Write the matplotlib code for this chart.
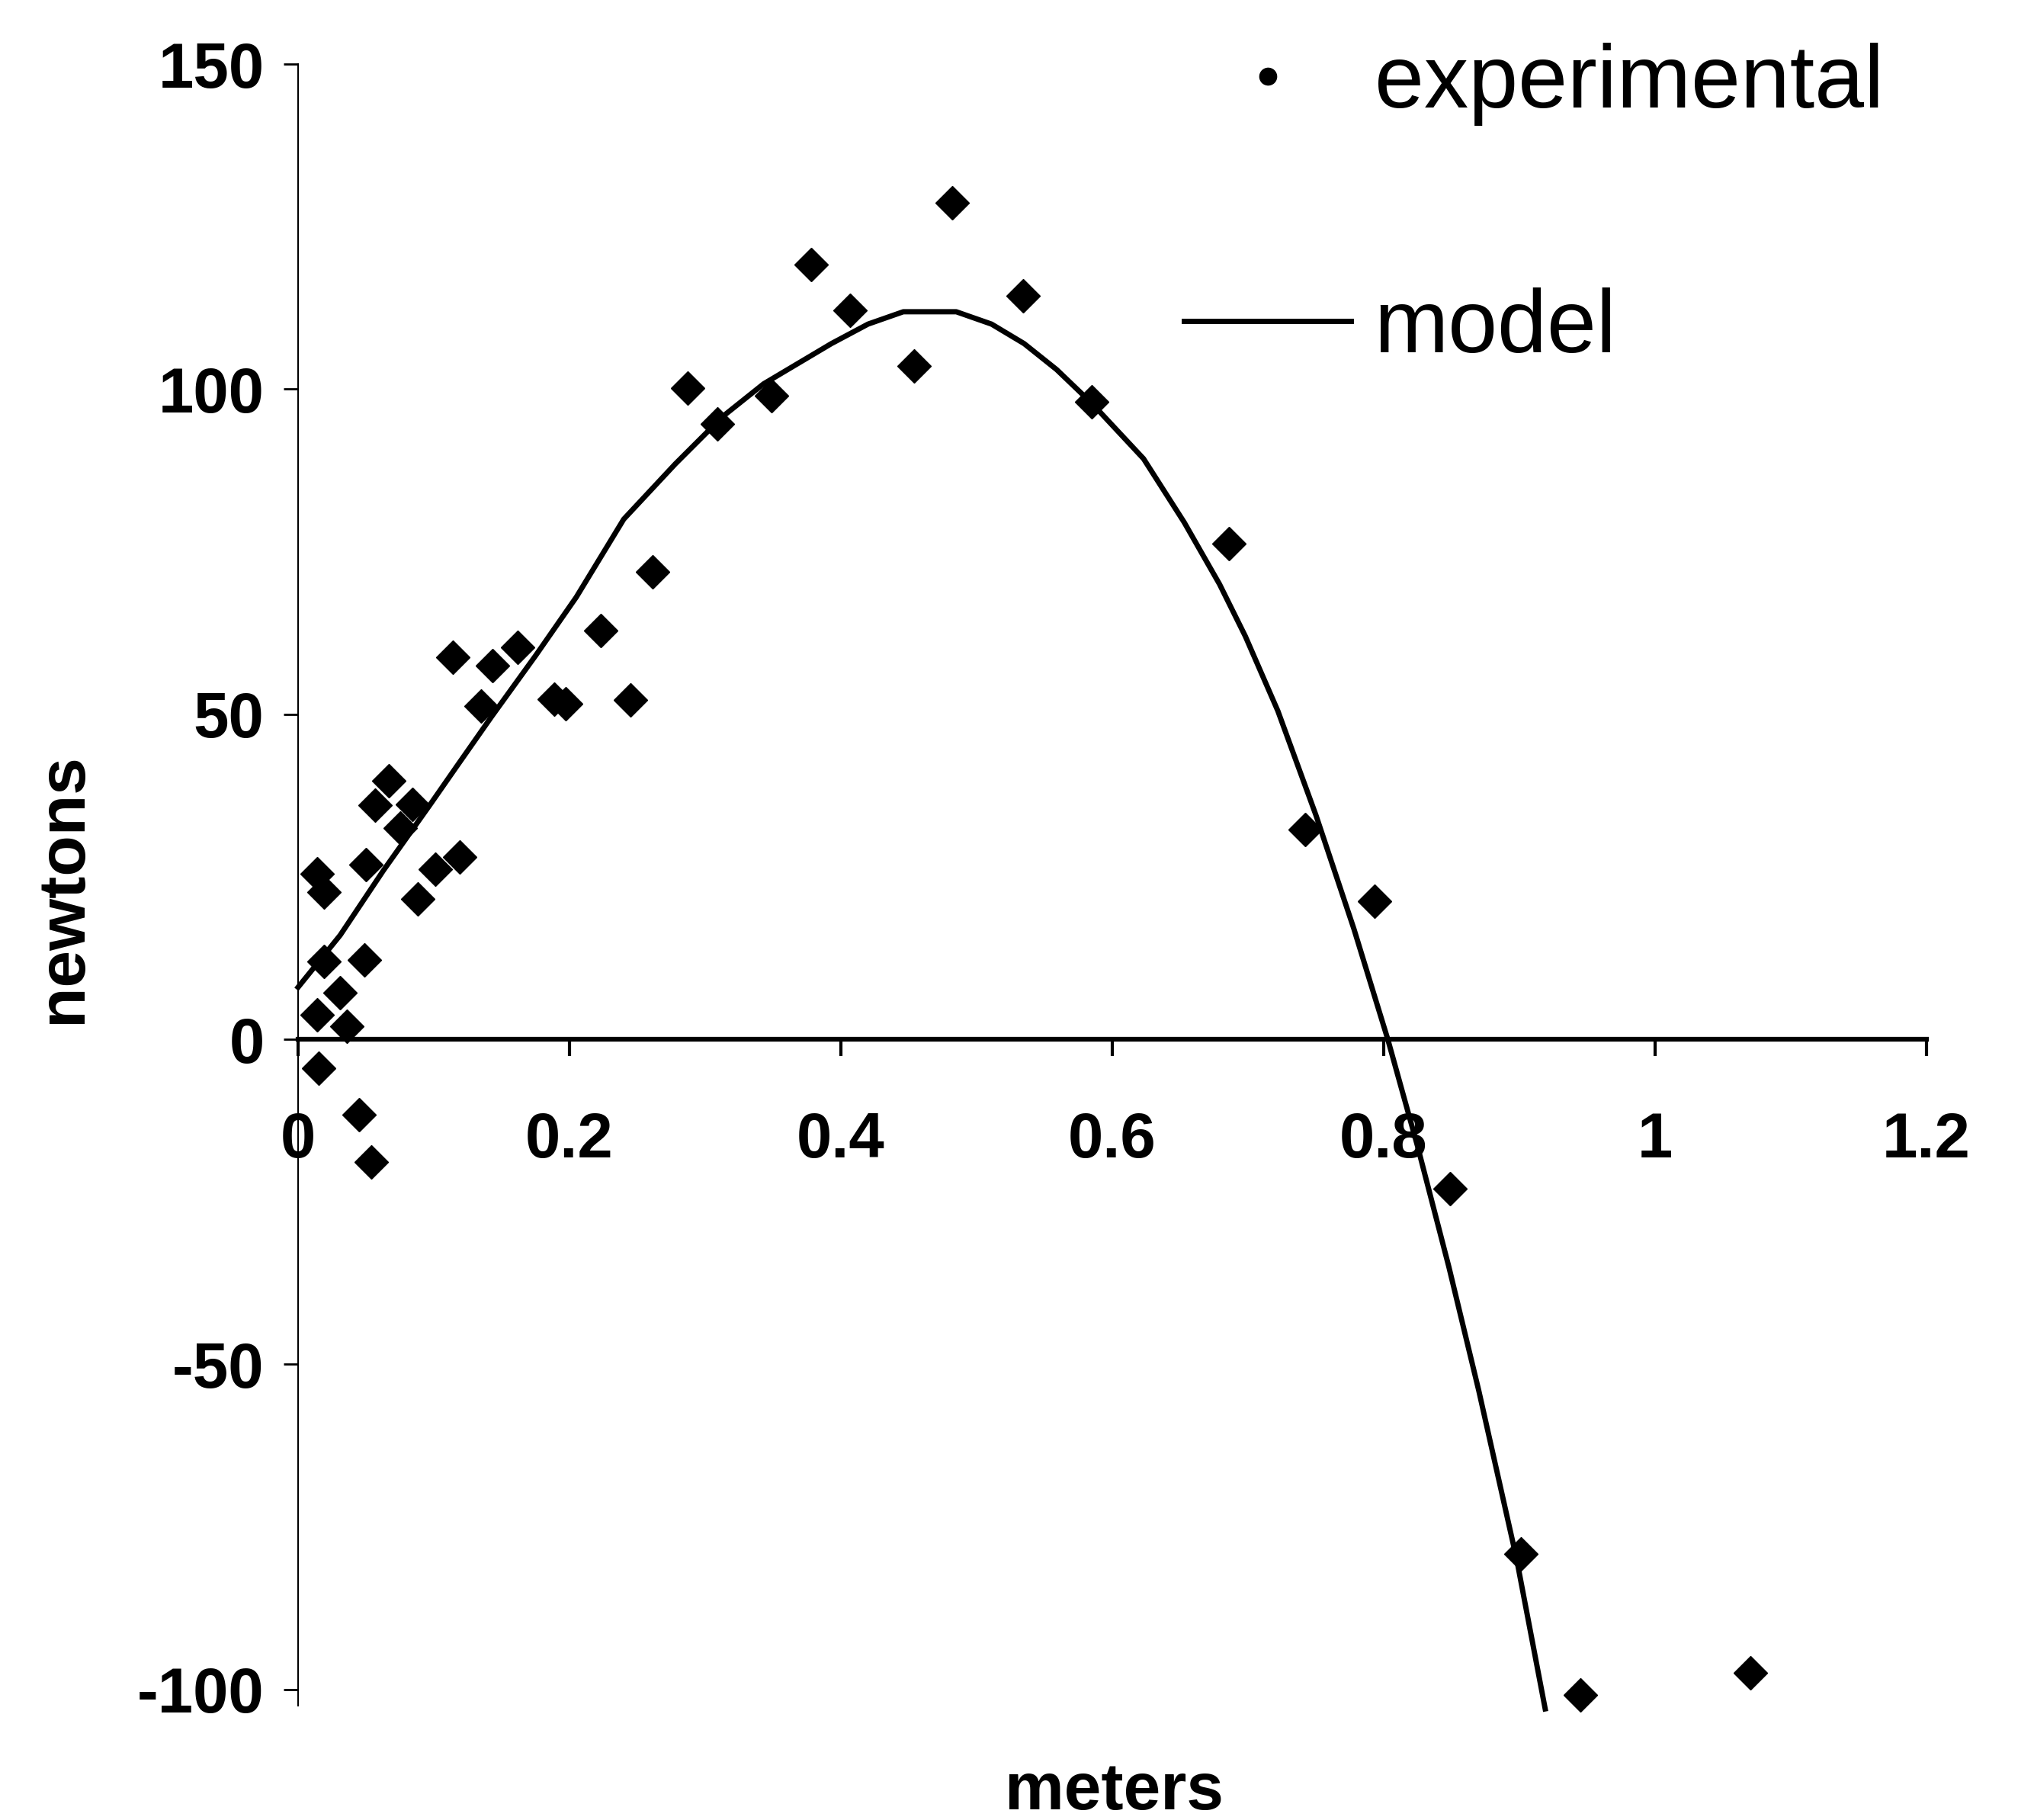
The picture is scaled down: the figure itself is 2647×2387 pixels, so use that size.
import matplotlib
matplotlib.use("Agg")
import matplotlib.pyplot as plt
from matplotlib.lines import Line2D

# experimental points (meters, newtons)
exp_x = [0.014, 0.019, 0.019, 0.014, 0.031, 0.036, 0.015, 0.049, 0.050, 0.045,
         0.054, 0.057, 0.067, 0.075, 0.084, 0.088, 0.101, 0.119, 0.114, 0.135,
         0.143, 0.162, 0.189, 0.197, 0.223, 0.245, 0.261, 0.287, 0.309, 0.349,
         0.378, 0.407, 0.454, 0.482, 0.534, 0.585, 0.686, 0.742, 0.793, 0.849,
         0.901, 0.945, 1.070]
exp_y = [25.4, 22.6, 12.0, 3.8, 7.2, 2.0, -4.5, 12.2, 26.8, -11.6,
         -18.9, 36.0, 39.7, 32.5, 36.1, 21.6, 26.1, 28.0, 58.7, 51.3,
         57.5, 60.3, 52.3, 51.6, 62.9, 52.2, 71.9, 100.2, 94.7, 99.0,
         119.2, 112.1, 103.6, 128.7, 114.3, 98.0, 76.2, 32.3, 21.2, -23.0,
         -79.2, -100.8, -97.4]

# model curve
model_x = [0.0, 0.031, 0.063, 0.097, 0.117, 0.1425, 0.175, 0.205, 0.240, 0.278,
           0.313, 0.343, 0.393, 0.420, 0.446, 0.485, 0.511, 0.535, 0.559, 0.585,
           0.623, 0.653, 0.679, 0.698, 0.722, 0.750, 0.778, 0.803, 0.825, 0.848,
           0.870, 0.898, 0.919]
model_y = [8.0, 16.0, 26.0, 36.0, 42.0, 49.6, 59.0, 68.0, 80.0, 88.5,
           95.8, 100.8, 107.0, 110.0, 111.9, 111.9, 110.0, 107.0, 103.0, 97.8,
           89.3, 79.5, 70.0, 62.0, 50.5, 34.5, 17.0, 0.0, -16.5, -35.0,
           -54.0, -80.0, -103.0]

x_ticks = [0, 0.2, 0.4, 0.6, 0.8, 1.0, 1.2]
x_tick_labels = ['0', '0.2', '0.4', '0.6', '0.8', '1', '1.2']
y_ticks = [150, 100, 50, 0, -50, -100]
y_tick_labels = ['150', '100', '50', '0', '-50', '-100']

W, H = 2647, 2387
fig = plt.figure(figsize=(W / 100, H / 100), dpi=100)
ax = fig.add_axes([391 / W, 1 - 2237 / H, (2527 - 391) / W, (2237 - 84) / H])

ax.plot(model_x, model_y, color='black', lw=5, clip_on=False, zorder=3)
ax.plot(exp_x, exp_y, ls='none', marker='D', ms=22, color='black',
        clip_on=False, zorder=4)

ax.set_xlim(0, 1.2)
ax.set_ylim(-102.5, 150)

ax.spines['top'].set_visible(False)
ax.spines['right'].set_visible(False)
ax.spines['bottom'].set_position(('data', 0))
ax.spines['bottom'].set_linewidth(4.5)
ax.spines['left'].set_linewidth(1.5)

bold = {'family': 'Liberation Sans', 'weight': 'bold', 'size': 60}
ax.set_xticks(x_ticks)
ax.set_xticklabels(x_tick_labels, fontdict=bold)
ax.set_yticks(y_ticks)
ax.set_yticklabels(y_tick_labels, fontdict=bold)
ax.tick_params(axis='x', direction='out', length=16, width=3, pad=52)
ax.tick_params(axis='y', direction='out', length=14, width=2, pad=18)

label_font = dict(bold, size=63)
fig.text(84 / W, 1 - 1165 / H, 'newtons', rotation=90, ha='center', va='center',
         fontdict=label_font)
fig.text(1462 / W, 1 - 2351 / H, 'meters', ha='center', va='center',
         fontdict=label_font)

handles = [Line2D([], [], ls='none', marker='o', ms=16, color='black'),
           Line2D([], [], color='black', lw=5)]
ax.legend(handles, ['experimental', 'model'], loc='upper left',
          bbox_to_anchor=(1553 / W, 1 - 56 / H), bbox_transform=fig.transFigure,
          frameon=False, prop={'family': 'Liberation Sans', 'size': 84},
          handlelength=1.88, handletextpad=0.26, labelspacing=1.82,
          borderpad=0, borderaxespad=0)

fig.savefig('out.png', dpi=100)
